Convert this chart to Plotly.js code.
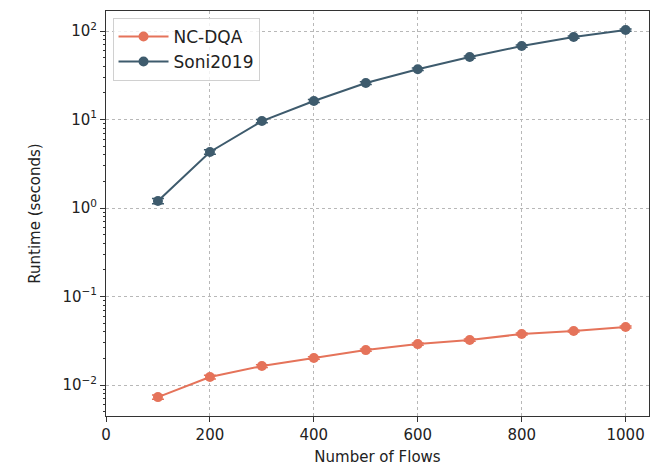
<!DOCTYPE html>
<html><head><meta charset="utf-8">
<script src="https://cdn.plot.ly/plotly-3.0.1.min.js"></script>
<style>body{margin:0;background:#fff}#c{width:652px;height:466px}</style>
</head><body><div id="c"></div>
<script>
const flows = [100,200,300,400,500,600,700,800,900,1000];
const ncdqa = [0.0073,0.0123,0.0164,0.0202,0.0248,0.029,0.0322,0.0377,0.0407,0.0452];
const ncdqaErr = [0.0004,0.0006,0.0006,0.0007,0.0008,0.0008,0.0009,0.001,0.001,0.0012];
const soni = [1.2,4.3,9.6,16.2,25.8,37,50.8,67.7,85.5,102.6];
const soniErr = [0.08,0.25,0.4,0.6,0.9,1.2,1.5,2,2.5,3];
const yTickVals = [0.01,0.1,1,10,100];
const yTickText = ['10<sup>−2</sup>','10<sup>−1</sup>','10<sup>0</sup>','10<sup>1</sup>','10<sup>2</sup>'];
const xTickVals = [0,200,400,600,800,1000];

const orange = '#e5735a', slate = '#3e5b6d';
const data = [
 {x:flows,y:ncdqa,name:'NC-DQA',mode:'lines+markers',
  line:{color:orange,width:2},marker:{color:orange,size:10},
  error_y:{type:'data',array:ncdqaErr,visible:true,color:orange,thickness:1.5,width:6}},
 {x:flows,y:soni,name:'Soni2019',mode:'lines+markers',
  line:{color:slate,width:2},marker:{color:slate,size:10},
  error_y:{type:'data',array:soniErr,visible:true,color:slate,thickness:1.5,width:6}}
];
const font = {family:'DejaVu Sans, sans-serif',size:15,color:'#222'};
const layout = {
 width:652,height:466,margin:{l:106,r:3,t:11,b:50},
 paper_bgcolor:'#fff',plot_bgcolor:'#fff',font:font,showlegend:true,
 xaxis:{range:[0,1045],tickvals:xTickVals,ticks:'outside',ticklen:5,tickcolor:'#333',
  showline:true,mirror:true,linecolor:'#333',linewidth:1,
  showgrid:true,gridcolor:'#b8b8b8',griddash:'dot',gridwidth:1,zeroline:false,
  title:{text:'Number of Flows',font:font,standoff:10},tickfont:font},
 yaxis:{type:'log',range:[-2.35,2.226],tickvals:yTickVals,ticktext:yTickText,ticks:'outside',ticklen:5,tickcolor:'#333',
  minor:{ticks:'outside',ticklen:2.5,tickcolor:'#333',dtick:'D1',showgrid:false},
  showline:true,mirror:true,linecolor:'#333',linewidth:1,
  showgrid:true,gridcolor:'#b8b8b8',griddash:'dot',gridwidth:1,zeroline:false,
  title:{text:'Runtime (seconds)',font:font,standoff:18},tickfont:font},
 legend:{x:0.012,y:0.983,xanchor:'left',yanchor:'top',bgcolor:'rgba(255,255,255,0.8)',
  bordercolor:'#d0d0d0',borderwidth:1,itemwidth:50,tracegroupgap:4,
  font:{family:'DejaVu Sans, sans-serif',size:17,color:'#222'}}
};
Plotly.newPlot('c',data,layout,{displayModeBar:false});
</script></body></html>
